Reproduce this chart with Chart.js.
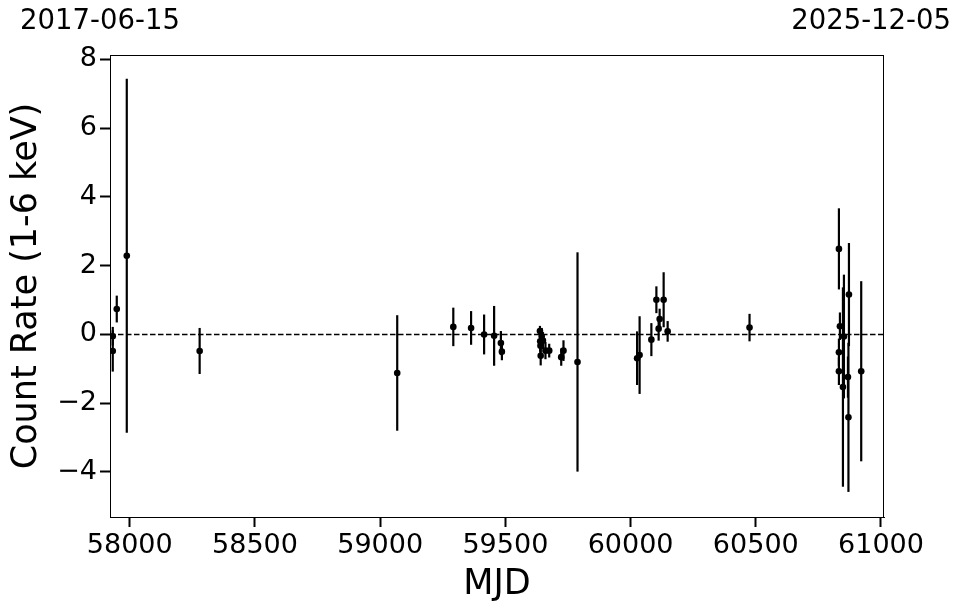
<!DOCTYPE html>
<html>
<head>
<meta charset="utf-8">
<script src="https://cdn.jsdelivr.net/npm/chart.js@4"></script>
<style>
  body { margin: 0; background: #fff; }
  canvas { display: block; }
</style>
</head>
<body>
<canvas id="grafico" width="962" height="613"></canvas>
<script>
// datos
const mjd = [57932, 57932, 57948, 57988, 58279, 59068, 59292, 59363, 59415, 59455,
  59482, 59486, 59638, 59639, 59640, 59641, 59645, 59650, 59660, 59675,
  59723, 59732, 59788, 60026, 60036, 60083, 60103, 60112, 60116, 60132,
  60148, 60475, 60832, 60832, 60832, 60836, 60848, 60852, 60868, 60870,
  60872, 60921];
const rate = [-0.05, -0.48, 0.74, 2.29, -0.48, -1.12, 0.22, 0.19, 0.00, -0.04,
  -0.25, -0.50, 0.10, -0.20, -0.33, -0.62, -0.06, -0.18, -0.47, -0.47,
  -0.66, -0.47, -0.80, -0.69, -0.60, -0.15, 1.01, 0.17, 0.45, 1.01,
  0.09, 0.20, 2.49, -0.52, -1.07, 0.24, -1.53, -0.06, -1.24, -2.41,
  1.16, -1.07];
const err = [0.27, 0.60, 0.39, 5.15, 0.67, 1.68, 0.56, 0.49, 0.58, 0.87,
  0.35, 0.25, 0.15, 0.30, 0.30, 0.28, 0.25, 0.25, 0.25, 0.20,
  0.25, 0.30, 3.19, 0.78, 1.13, 0.48, 0.39, 0.35, 0.30, 0.80,
  0.30, 0.40, 1.18, 0.40, 0.40, 0.40, 2.90, 1.80, 0.60, 2.17,
  1.50, 2.62];

const xTicks = [58000, 58500, 59000, 59500, 60000, 60500, 61000];
const yTicks = [-4, -2, 0, 2, 4, 6, 8];
const fechas = ['2017-06-15', '2025-12-05'];

const fuente = 'DejaVu Sans';

// barras de error, linea en cero y marco
const extras = {
  id: 'extras',
  beforeDatasetsDraw(chart) {
    const ctx = chart.ctx;
    const x = chart.scales.x, y = chart.scales.y;
    const a = chart.chartArea;
    ctx.save();
    // linea punteada en y = 0
    ctx.strokeStyle = '#000';
    ctx.lineWidth = 1.5;
    ctx.setLineDash([5.5, 2.5]);
    ctx.beginPath();
    ctx.moveTo(a.left, y.getPixelForValue(0));
    ctx.lineTo(a.right, y.getPixelForValue(0));
    ctx.stroke();
    ctx.setLineDash([]);
    ctx.lineWidth = 2.2;
    mjd.forEach((m, i) => {
      const px = x.getPixelForValue(m);
      ctx.beginPath();
      ctx.moveTo(px, y.getPixelForValue(rate[i] + err[i]));
      ctx.lineTo(px, y.getPixelForValue(rate[i] - err[i]));
      ctx.stroke();
    });
    ctx.restore();
  },
  afterDraw(chart) {
    const ctx = chart.ctx;
    const a = chart.chartArea;
    ctx.save();
    ctx.strokeStyle = '#000';
    ctx.lineWidth = 1;
    ctx.strokeRect(a.left + 0.5, a.top + 0.5, a.right - a.left - 1, a.bottom - a.top);
    ctx.fillStyle = '#000';
    ctx.font = '27.5px "' + fuente + '"';
    ctx.textBaseline = 'middle';
    ctx.textAlign = 'center';
    ctx.fillText(fechas[0], 100, 22);
    ctx.textAlign = 'right';
    ctx.fillText(fechas[1], 951, 22);
    ctx.restore();
  }
};

new Chart(document.getElementById('grafico').getContext('2d'), {
  type: 'scatter',
  data: {
    datasets: [{
      data: mjd.map((m, i) => ({ x: m, y: rate[i] })),
      backgroundColor: '#000',
      borderColor: '#000',
      pointRadius: 3.3,
      pointBorderWidth: 0
    }]
  },
  options: {
    responsive: false,
    animation: false,
    layout: { padding: { top: 55, right: 78, left: 0, bottom: 0 } },
    plugins: { legend: { display: false }, tooltip: { enabled: false } },
    scales: {
      x: {
        type: 'linear',
        min: 57921,
        max: 61012,
        afterBuildTicks: s => { s.ticks = xTicks.map(v => ({ value: v })); },
        afterFit: s => { s.height = 96; },
        grid: { display: true, drawOnChartArea: false, drawTicks: true, tickLength: 10, tickWidth: 2, tickColor: '#000' },
        border: { display: true, color: '#000', width: 1 },
        ticks: { color: '#000', font: { family: fuente, size: 27 }, padding: 3, maxRotation: 0, autoSkip: false,
          callback: v => String(v) },
        title: { display: true, text: 'MJD', color: '#000', font: { family: fuente, size: 35 }, padding: { top: 0, bottom: 7 } }
      },
      y: {
        min: -5.31,
        max: 8.13,
        afterBuildTicks: s => { s.ticks = yTicks.map(v => ({ value: v })); },
        afterFit: s => { s.width = 110; },
        grid: { display: true, drawOnChartArea: false, drawTicks: true, tickLength: 10, tickWidth: 2, tickColor: '#000' },
        border: { display: true, color: '#000', width: 1 },
        ticks: { color: '#000', font: { family: fuente, size: 27 }, padding: 3, autoSkip: false,
          callback: v => (v < 0 ? '\u2212' + Math.abs(v) : String(v)) },
        title: { display: true, text: 'Count Rate (1-6 keV)', color: '#000', font: { family: fuente, size: 35 }, padding: { top: 6, bottom: 0 } }
      }
    }
  },
  plugins: [extras]
});
</script>
</body>
</html>
